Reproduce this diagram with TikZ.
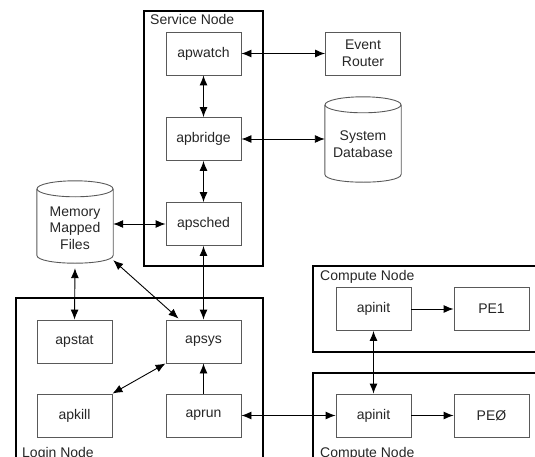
\documentclass[tikz,border=0pt]{standalone}
\usepackage{fontspec}
\setmainfont{Liberation Sans}
\usetikzlibrary{arrows.meta,calc}
\begin{document}
\begin{tikzpicture}[x=1pt,y=-1pt,
  txt/.style={font=\fontsize{14}{16.5}\selectfont, text=black!85},
  box/.style={txt, draw=black!65, line width=0.9pt, minimum width=75pt, minimum height=43pt, inner sep=0pt, align=center},
  cyl/.style={txt, draw=none, minimum width=76pt, inner sep=0pt, align=center},
  outer/.style={draw=black, line width=2.4pt},
  lbl/.style={txt, anchor=base west, inner sep=0pt},
  arr/.style={draw=black, line width=0.9pt, {Latex[length=10pt,width=8pt]}-{Latex[length=10pt,width=8pt]}},
  arrs/.style={draw=black, line width=0.9pt, -{Latex[length=10pt,width=8pt]}}]
\useasboundingbox (0,0) rectangle (535,457);
\clip (0,0) rectangle (535,457);
% outer boxes
\draw[outer] (144,11) rectangle (263,266);
\draw[outer] (16,298) rectangle (263,480);
\draw[outer] (313,266) rectangle (560,352);
\draw[outer] (313,373) rectangle (560,480);
\node[lbl] (lsvc) at (150,25) {Service Node};
\node[lbl] (llog) at (22,457) {Login Node};
\node[lbl] (lcn1) at (320,280) {Compute Node};
\node[lbl] (lcn0) at (320,457) {Compute Node};
% boxes
\node[box] (apwatch) at (203.5,53.5) {apwatch};
\node[box] (apbridge) at (203.5,139) {apbridge};
\node[box] (apsched) at (203.5,224) {apsched};
\node[box] (er) at (363,53.5) {Event\\Router};
\node[box] (apstat) at (74.5,341.5) {apstat};
\node[box] (apsys) at (203.5,341.5) {apsys};
\node[box] (apkill) at (74.5,415.5) {apkill};
\node[box] (aprun) at (203.5,415.5) {aprun};
\node[box] (apinit1) at (373.5,309) {apinit};
\node[box] (pe1) at (491.5,309) {PE1};
\node[box] (apinit0) at (373.5,415.5) {apinit};
\node[box] (pe0) at (491.5,415.5) {PE\O};
% cylinders
\node[cyl, minimum height=85pt] (sysdb) at (363,139.5) {};
\node[txt, align=center, inner sep=0pt] (sysdbt) at (363,144) {System\\Database};
\node[cyl, minimum height=82pt] (mmf) at (75,222) {};
\node[txt, align=center, inner sep=0pt] (mmft) at (75,228) {Memory\\Mapped\\Files};
\foreach \c in {sysdb,mmf}{
  \draw[draw=black!65, line width=0.9pt] ($(\c.north)+(0,8)$) ellipse[x radius=38, y radius=8];
  \draw[draw=black!65, line width=0.9pt] ($(\c.north west)+(0,8)$) -- ($(\c.south west)+(0,-8)$)
     .. controls ($(\c.south west)+(0,2.67)$) and ($(\c.south east)+(0,2.67)$) .. ($(\c.south east)+(0,-8)$)
     -- ($(\c.north east)+(0,8)$);
}
% connectors
\draw[arr] (apwatch) -- (er);
\draw[arr] (apbridge.east) -- (sysdb.west |- apbridge.east);
\draw[arr] (apwatch) -- (apbridge);
\draw[arr] (apbridge) -- (apsched);
\draw[arr] (mmf.east |- apsched.west) -- (apsched.west);
\draw[arr] ($(mmf.south)+(0,5)$) -- (apstat.north);
\draw[arr] ($(mmf.south east)+(0,-3)$) -- ($(apsys.north west)+(13,-1)$);
\draw[arr] (apsched) -- (apsys);
\draw[arr] (apsys.south west) -- (apkill.north east);
\draw[arrs] (aprun) -- (apsys);
\draw[arr] (aprun) -- (apinit0);
\draw[arr] (apinit1) -- (apinit0);
\draw[arrs] (apinit1) -- (pe1);
\draw[arrs] (apinit0) -- (pe0);
\end{tikzpicture}
\end{document}
